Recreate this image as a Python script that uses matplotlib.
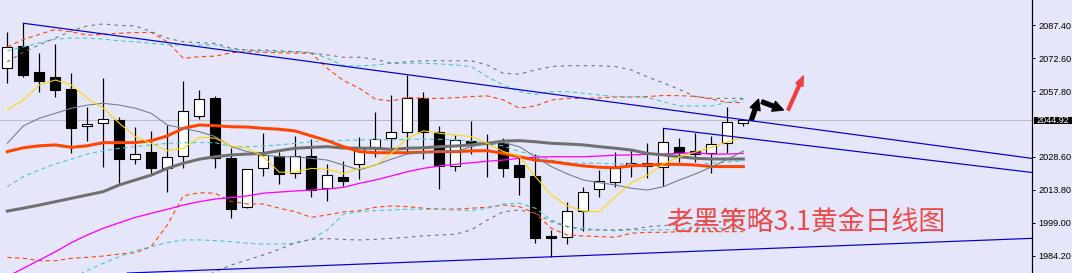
import matplotlib
matplotlib.use("Agg")
import matplotlib.pyplot as plt
import matplotlib.transforms as mtransforms
from matplotlib.patches import Rectangle
import numpy as np

# gold daily candles (bar index 0..46)
opens = [2068.0, 2078.0, 2066.4, 2064.0, 2058.8, 2042.1, 2043.5, 2044.9, 2027.6, 2030.5,
         2023.6, 2028.7, 2046.9, 2054.8, 2027.9, 2005.9, 2023.3, 2029.0, 2021.1, 2028.7,
         2014.7, 2019.4, 2025.4, 2032.7, 2036.8, 2039.4, 2054.8, 2039.4, 2024.5, 2035.5,
         2034.4, 2034.5, 2024.8, 2019.9, 1992.9, 1992.6, 2004.1, 2013.9, 2017.1, 2024.8,
         2024.5, 2023.8, 2032.9, 2031.2, 2030.0, 2034.5, 2043.5]
closes = [2077.4, 2065.2, 2062.5, 2058.5, 2041.2, 2043.0, 2045.4, 2027.6, 2029.6, 2023.6,
          2028.4, 2048.8, 2054.2, 2027.9, 2005.3, 2022.9, 2029.1, 2020.9, 2029.0, 2013.6,
          2020.2, 2017.8, 2032.9, 2036.3, 2039.4, 2054.6, 2039.4, 2024.5, 2035.9, 2034.2,
          2034.0, 2023.6, 2019.6, 1992.3, 1992.0, 2004.1, 2012.6, 2017.5, 2023.5, 2025.6,
          2025.6, 2035.0, 2030.8, 2029.7, 2034.1, 2043.9, 2044.92]
highs = [2084.1, 2088.2, 2074.9, 2078.9, 2065.9, 2050.7, 2063.7, 2046.3, 2041.8, 2040.0,
         2042.7, 2062.4, 2058.3, 2055.5, 2032.5, 2023.0, 2039.1, 2030.8, 2037.9, 2036.6,
         2025.3, 2026.5, 2037.3, 2048.5, 2056.1, 2065.1, 2057.5, 2042.3, 2038.2, 2044.5,
         2038.7, 2037.0, 2028.5, 2029.7, 1995.8, 2008.3, 2015.0, 2022.6, 2030.8, 2031.8,
         2034.5, 2041.2, 2036.9, 2039.3, 2037.8, 2050.6, 2044.92]
lows = [2061.3, 2064.3, 2057.6, 2055.4, 2030.3, 2035.7, 2024.1, 2016.6, 2025.4, 2020.7,
        2012.9, 2023.6, 2045.4, 2023.6, 2001.3, 2005.5, 2020.0, 2016.2, 2019.1, 2010.6,
        2008.9, 2015.6, 2018.7, 2028.5, 2031.5, 2030.8, 2027.4, 2014.2, 2022.1, 2029.7,
        2019.6, 2019.6, 2011.5, 1989.8, 1983.8, 1989.6, 1995.3, 2010.6, 2015.1, 2019.6,
        2019.1, 2015.6, 2026.3, 2026.3, 2021.1, 2030.0, 2042.4]

# moving averages
ma_yellow = [2049.4, 2053.9, 2060.6, 2062.8, 2060.6, 2054.6, 2050.2, 2043.5, 2037.5, 2034.5,
             2031.2, 2032.3, 2037.2, 2036.8, 2033.3, 2032.3, 2028.5, 2021.6, 2021.6, 2023.3,
             2022.9, 2021.0, 2023.3, 2024.5, 2030.0, 2036.8, 2040.1, 2039.0, 2038.2, 2037.5,
             2034.5, 2030.8, 2028.8, 2019.6, 2011.4, 2006.5, 2004.2, 2003.9, 2010.6, 2016.9,
             2020.3, 2025.3, 2028.4, 2030.6, 2032.7, 2035.2, 2037.0]
ma_slate = [2034.5, 2042.3, 2045.7, 2047.9, 2050.2, 2051.6, 2052.4, 2051.6, 2050.2, 2047.9,
            2042.7, 2041.2, 2039.7, 2037.5, 2033.0, 2030.8, 2029.3, 2028.5, 2028.5, 2027.8,
            2027.0, 2024.8, 2022.6, 2024.8, 2027.4, 2029.7, 2030.3, 2030.8, 2030.8, 2033.0,
            2034.5, 2034.8, 2033.0, 2028.5, 2024.1, 2020.8, 2018.1, 2016.9, 2015.9, 2014.4,
            2013.6, 2015.1, 2018.1, 2020.8, 2023.9, 2027.3, 2031.1]
ma_orange = [2030.8, 2032.5, 2033.4, 2033.8, 2032.7, 2033.4, 2034.8, 2034.8, 2034.8, 2035.7,
             2037.8, 2041.2, 2042.7, 2042.4, 2041.9, 2041.8, 2041.2, 2040.8, 2040.0, 2037.8,
             2035.7, 2033.0, 2030.8, 2030.3, 2030.3, 2030.3, 2030.5, 2030.8, 2030.8, 2031.1,
             2031.2, 2030.0, 2028.5, 2027.0, 2026.3, 2025.3, 2024.4, 2023.8, 2023.6, 2024.4,
             2024.8, 2025.1, 2025.1, 2024.8, 2024.1, 2024.1, 2024.1]
ma_gray = [2004.2, 2005.5, 2006.9, 2008.4, 2009.9, 2011.4, 2012.9, 2015.9, 2018.1, 2020.3,
           2023.3, 2025.6, 2027.4, 2028.5, 2029.3, 2029.7, 2030.0, 2031.2, 2032.3, 2032.7,
           2033.0, 2032.4, 2032.3, 2032.3, 2031.8, 2032.3, 2032.5, 2033.0, 2033.3, 2033.8,
           2034.5, 2035.5, 2035.7, 2035.2, 2034.5, 2034.2, 2033.8, 2033.0, 2032.3, 2031.5,
           2030.0, 2029.3, 2028.5, 2027.8, 2027.5, 2027.5, 2027.5]
ma_magenta = [1974.9, 1978.6, 1982.3, 1986.0, 1990.1, 1993.5, 1996.5, 1999.0, 2001.4, 2003.2,
              2005.0, 2006.9, 2008.4, 2009.6, 2010.2, 2011.0, 2012.2, 2012.7, 2013.2, 2013.6,
              2014.1, 2014.8, 2016.6, 2018.1, 2019.9, 2021.8, 2023.3, 2024.4, 2025.1, 2025.8,
              2026.5, 2027.0, 2027.8, 2028.3, 2028.5, 2028.5, 2028.5, 2028.8, 2029.2, 2029.3,
              2029.6, 2029.7, 2030.0, 2030.2, 2029.7, 2029.7, 2030.0]

# band lines (dashed)
band_orange_up = [2077.6, 2080.9, 2083.2, 2085.4, 2084.3, 2082.9, 2083.2, 2083.7, 2084.0, 2084.1,
                  2079.9, 2072.5, 2073.2, 2073.5, 2075.0, 2075.5, 2075.2, 2075.0, 2074.8, 2074.8,
                  2068.0, 2062.6, 2059.1, 2054.3, 2053.4, 2055.1, 2054.6, 2054.6, 2054.9, 2055.4,
                  2055.7, 2053.9, 2050.2, 2051.2, 2053.9, 2054.6, 2054.6, 2054.8, 2055.2, 2055.2,
                  2055.4, 2055.9, 2055.8, 2055.5, 2054.3, 2052.8, 2052.7]
band_orange_lo = [1983.5, 1983.1, 1982.0, 1982.0, 1983.1, 1983.5, 1984.1, 1985.0, 1985.6, 1988.3,
                  1998.0, 2011.0, 2012.4, 2012.2, 2008.4, 2007.4, 2007.4, 2005.5, 2003.9, 2001.4,
                  2002.5, 2003.8, 2004.4, 2005.9, 2006.5, 2006.2, 2005.5, 2005.1, 2005.1, 2005.5,
                  2005.9, 2006.9, 2006.2, 2003.2, 1996.5, 1993.5, 1993.1, 1992.8, 1992.5, 1994.3,
                  1994.7, 1994.7, 1995.0, 1995.0, 1995.0, 1995.0, 1995.0]
band_cyan_up = [2075.8, 2077.6, 2079.4, 2081.1, 2081.5, 2081.5, 2081.1, 2080.3, 2079.9, 2079.2,
                2078.5, 2078.5, 2078.5, 2078.5, 2076.5, 2076.2, 2075.9, 2075.5, 2075.5, 2075.2,
                2072.5, 2069.3, 2069.1, 2069.5, 2070.3, 2070.3, 2070.3, 2070.0, 2069.5, 2068.8,
                2064.3, 2060.6, 2057.6, 2056.4, 2057.6, 2057.6, 2056.9, 2056.1, 2055.4, 2055.4,
                2055.0, 2053.1, 2051.2, 2051.2, 2051.2, 2052.8, 2054.2]
band_cyan_mid = [2015.1, 2019.6, 2022.6, 2025.3, 2027.4, 2029.7, 2031.2, 2032.3, 2033.0, 2033.8,
                 2034.5, 2034.8, 2034.8, 2034.8, 2033.0, 2033.0, 2033.3, 2033.8, 2034.5, 2035.2,
                 2035.7, 2035.8, 2036.0, 2036.3, 2036.0, 2036.3, 2036.3, 2036.3, 2036.0, 2035.5,
                 2034.6, 2033.3, 2030.8, 2029.3, 2027.0, 2025.8, 2025.6, 2025.6, 2025.3, 2025.3,
                 2025.1, 2024.8, 2024.8, 2024.8, 2025.7, 2026.2, 2026.6]
band_cyan_lo = [1961.8, 1964.9, 1968.0, 1971.2, 1974.3, 1977.6, 1980.9, 1983.8, 1986.5, 1988.3,
                1990.1, 1991.3, 1991.3, 1991.0, 1990.5, 1989.8, 1989.5, 1989.4, 1989.8, 1991.6,
                1995.8, 2002.8, 2003.9, 2004.4, 2004.7, 2005.0, 2005.0, 2005.0, 2004.7, 2004.4,
                2005.5, 2007.4, 2007.7, 2005.5, 2000.2, 1997.2, 1996.5, 1995.8, 1995.4, 1995.8,
                1995.8, 1995.8, 1996.1, 1996.5, 1996.6, 1996.6, 1996.6]
band_gray_up = [2070.9, 2075.3, 2078.5, 2081.6, 2084.7, 2087.0, 2087.9, 2087.2, 2087.0, 2084.4,
                2081.5, 2079.9, 2079.5, 2079.2, 2077.0, 2076.2, 2076.2, 2075.9, 2075.5, 2074.8,
                2074.0, 2073.0, 2073.0, 2072.1, 2070.3, 2071.0, 2071.4, 2071.4, 2071.4, 2071.4,
                2069.5, 2065.8, 2065.5, 2067.3, 2068.8, 2069.2, 2069.2, 2069.2, 2068.8, 2067.3,
                2064.2, 2061.5, 2058.6, 2055.4, 2054.6, 2054.6, 2054.6]
band_gray_lo = [np.nan] * 11 + [
                1970.7, 1973.8, 1977.1, 1980.1, 1982.3, 1984.6, 1987.1, 1990.1, 1991.6,
                1991.9, 1991.5, 1991.3, 1991.6, 1992.0, 1992.5, 1993.1, 1993.5, 1993.8, 1995.8,
                2000.2, 2003.9, 2004.7, 2003.2, 1999.5, 1997.2, 1995.8, 1995.8, 1995.8, 1996.1,
                1997.2, 1997.7, 1998.3, 1998.7, 1999.3, 1999.5, 1999.5]

# hand drawn trend lines (bar index, price)
trend_top_x, trend_top_y = [1, 64.0], [2088.2, 2027.8]
trend_mid_x, trend_mid_y = [41, 64.0], [2041.2, 2021.5]
trend_low_x, trend_low_y = [7.5, 64.0], [1976.5, 1992.0]

last_price = 2044.92
price_ticks = [2087.40, 2072.60, 2057.80, 2028.60, 2013.80, 1999.00, 1984.20]

bg = "#E6E6FA"
px = 0.72  # one pixel in points

fig = plt.figure(figsize=(10.72, 2.73), dpi=100, facecolor=bg)
ax = fig.add_axes([0, 0, 1031.7 / 1072, 1])
ax.set_facecolor(bg)
ax.set_xlim(-0.456, 64.02)
ax.set_ylim(1976.52, 2098.58)

x = np.arange(len(opens))
o = np.array(opens); c = np.array(closes)
bottoms = np.minimum(o, c)
heights = np.maximum(np.abs(c - o), 0.4)
faces = ["white" if cl >= op else "black" for op, cl in zip(opens, closes)]

# current price line
ax.axhline(last_price, color="#C0C0C0", lw=1.1 * px, zorder=1)

# candles
ax.vlines(x, lows, highs, color="black", lw=1.2 * px, zorder=2)
ax.bar(x, heights, width=0.62, bottom=bottoms, color=faces, edgecolor="black",
       linewidth=1.1 * px, zorder=2.1)

# bands
dash_a = (0, (4, 3))
dash_b = (0, (3, 4))
for vals, col, ls in [(band_orange_up, "#FF4500", dash_a), (band_orange_lo, "#FF4500", dash_a),
                      (band_cyan_up, "#48C8D0", dash_a), (band_cyan_mid, "#48C8D0", dash_a),
                      (band_cyan_lo, "#48C8D0", dash_a),
                      (band_gray_up, "#707070", dash_b), (band_gray_lo, "#707070", dash_b)]:
    ax.plot(x, vals, color=col, lw=1.1 * px, linestyle=ls, zorder=3)

# moving averages
ax.plot(x, ma_magenta, color="#FF00FF", lw=1.3 * px, zorder=3.1)
ax.plot(x, ma_gray, color="#707070", lw=3 * px, zorder=3.2)
ax.plot(x, ma_orange, color="#FF4500", lw=3 * px, zorder=3.2)
ax.plot(x, ma_slate, color="#708090", lw=1.1 * px, zorder=3.3)
ax.plot(x, ma_yellow, color="#FFD700", lw=1.1 * px, zorder=3.4)

# trend lines
for tx, ty in [(trend_top_x, trend_top_y), (trend_mid_x, trend_mid_y), (trend_low_x, trend_low_y)]:
    ax.plot(tx, ty, color="#0000CD", lw=1.2 * px, zorder=3.5)

# arrows
ax.annotate("", xy=(46.95, 2054.2), xytext=(46.5, 2044.9),
            arrowprops=dict(arrowstyle="simple,head_length=0.75,head_width=0.75,tail_width=0.28",
                            color="black", shrinkA=0, shrinkB=0), zorder=5)
ax.annotate("", xy=(48.5, 2049.4), xytext=(47.15, 2053.1),
            arrowprops=dict(arrowstyle="simple,head_length=0.75,head_width=0.75,tail_width=0.28",
                            color="black", shrinkA=0, shrinkB=0), zorder=5)
ax.annotate("", xy=(49.75, 2064.6), xytext=(48.8, 2049.4),
            arrowprops=dict(arrowstyle="simple,head_length=0.7,head_width=0.55,tail_width=0.2",
                            color="#F04040", shrinkA=0, shrinkB=0), zorder=5)

ax.text(41.2, 1999.2, "老黑策略3.1黄金日线图", fontsize=19.4, color="#EF4848",
        family=["Noto Sans CJK SC", "DejaVu Sans"], ha="left", va="center", zorder=6)

# right price scale
for side in ["left", "top", "bottom"]:
    ax.spines[side].set_visible(False)
ax.spines["right"].set_color("black")
ax.spines["right"].set_linewidth(1.2 * px)
ax.set_xticks([])
ax.yaxis.tick_right()
ax.set_yticks(price_ticks)
ax.set_yticklabels(["%.2f" % t for t in price_ticks])
ax.tick_params(axis="y", direction="out", length=2.4, width=px, pad=2.4, colors="black",
               labelsize=6.6)
for lab in ax.get_yticklabels():
    lab.set_family("Liberation Sans")

# last price box
blend = mtransforms.blended_transform_factory(ax.transAxes, ax.transData)
ax.add_patch(Rectangle((1.0022, 2043.0), 0.0375, 3.4, transform=blend, facecolor="black",
                       edgecolor="none", clip_on=False, zorder=6))
ax.text(1.0048, last_price, "%.2f" % last_price, transform=blend, ha="left", va="center",
        color="white", fontsize=6.6, family="Liberation Sans", zorder=7, clip_on=False)

fig.savefig("out.png", dpi=100, facecolor=bg)
